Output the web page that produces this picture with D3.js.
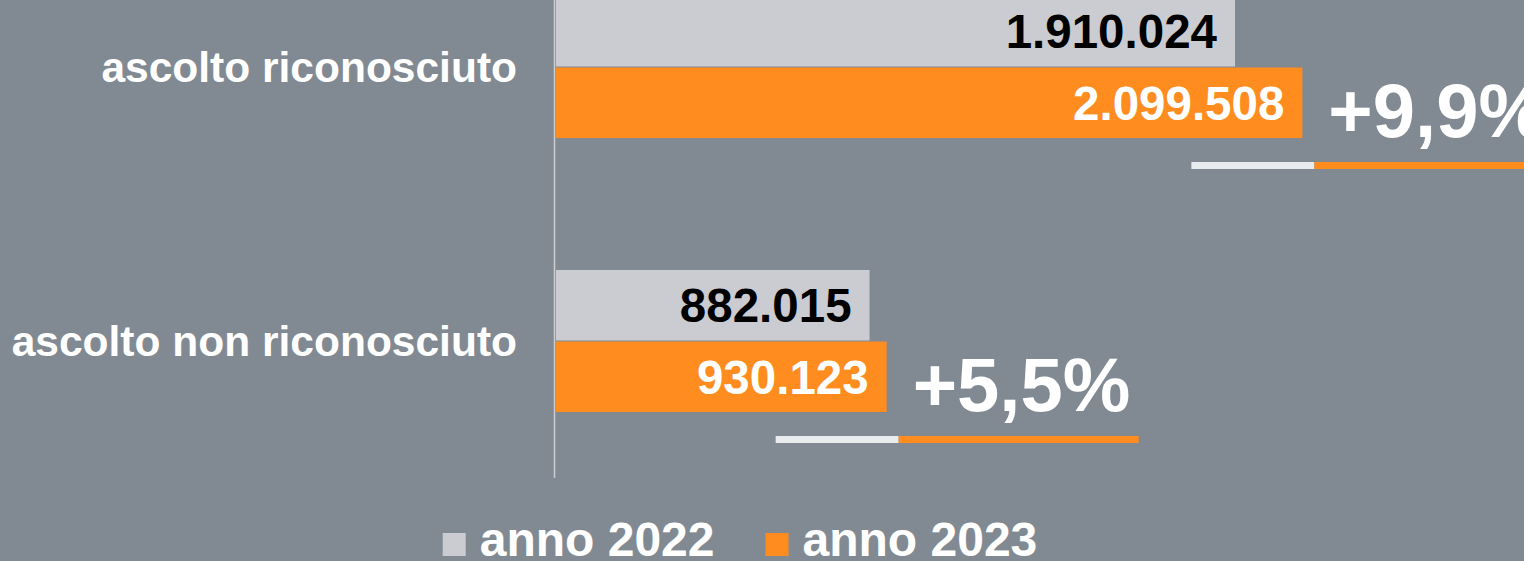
<!DOCTYPE html>
<html>
<head>
<meta charset="utf-8">
<script src="https://cdn.jsdelivr.net/npm/d3@7"></script>
<style>
  html, body { margin: 0; padding: 0; background: #818a93; }
  svg { display: block; font-family: "Liberation Sans", Arial, sans-serif; font-weight: bold; }
</style>
</head>
<body>
<div id="graf"></div>
<script>
// dati
const categorie = ["ascolto riconosciuto", "ascolto non riconosciuto"]
const anni = ["anno 2022", "anno 2023"]
const valori2022 = [1910024, 882015]
const valori2023 = [2099508, 930123]

const colori = {"anno 2022": "#cbccd1", "anno 2023": "#fe8c1e"}
const coloriTesto = {"anno 2022": "#000000", "anno 2023": "#ffffff"}

const width = 1524
const height = 561

const it = d3.formatLocale({decimal: ",", thousands: ".", grouping: [3], currency: ["€", ""]})
const fmtNum = it.format(",d")
const fmtPct = it.format("+.1f")

const data = categorie.map((c, i) => ({
  categoria: c,
  valori: [
    {anno: anni[0], valore: valori2022[i]},
    {anno: anni[1], valore: valori2023[i]}
  ]
}))

const x = d3.scaleLinear()
    .domain([0, 1910024])
    .range([556, 1235])

const y0 = d3.scaleBand()
    .domain(categorie)
    .range([-4, 412])
    .paddingInner(132 / 274)
    .paddingOuter(0)

const y1 = d3.scaleBand()
    .domain(anni)
    .range([0, y0.bandwidth()])
    .paddingInner(0.014)

const svg = d3.select("#graf").append("svg")
    .attr("width", width)
    .attr("height", height)
    .attr("viewBox", [0, 0, width, height])

svg.append("rect")
    .attr("width", width)
    .attr("height", height)
    .attr("fill", "#818a93")

const gruppi = svg.append("g")
  .selectAll("g")
  .data(data)
  .join("g")
    .attr("transform", d => `translate(0,${y0(d.categoria)})`)

gruppi.selectAll("rect")
  .data(d => d.valori)
  .join("rect")
    .attr("x", x(0))
    .attr("y", d => y1(d.anno))
    .attr("width", d => x(d.valore) - x(0))
    .attr("height", y1.bandwidth())
    .attr("fill", d => colori[d.anno])

gruppi.selectAll("text.valore")
  .data(d => d.valori)
  .join("text")
    .attr("class", "valore")
    .attr("x", d => x(d.valore) - 18)
    .attr("y", d => y1(d.anno) + y1.bandwidth() / 2)
    .attr("dy", "0.36em")
    .attr("text-anchor", "end")
    .attr("font-size", 47.5)
    .attr("fill", d => coloriTesto[d.anno])
    .text(d => fmtNum(d.valore))

// etichette categorie
svg.append("g")
  .selectAll("text")
  .data(categorie)
  .join("text")
    .attr("x", 517)
    .attr("y", d => y0(d) + y0.bandwidth() / 2)
    .attr("dy", "0.36em")
    .attr("text-anchor", "end")
    .attr("font-size", 42.5)
    .attr("fill", "#ffffff")
    .text(d => d)

// asse verticale
svg.append("line")
    .attr("x1", x(0) - 1.5)
    .attr("x2", x(0) - 1.5)
    .attr("y1", 0)
    .attr("y2", 478)
    .attr("stroke", "#c9cdd2")
    .attr("stroke-width", 1.5)

// variazioni percentuali
const variazioni = svg.append("g")
  .selectAll("g")
  .data(data)
  .join("g")
    .attr("transform", d => `translate(0,${y0(d.categoria) + y0.bandwidth()})`)

variazioni.append("text")
    .attr("x", d => x(d.valori[1].valore) + 26)
    .attr("y", -1)
    .attr("font-size", 76)
    .attr("fill", "#ffffff")
    .text(d => fmtPct((d.valori[1].valore / d.valori[0].valore - 1) * 100) + "%")

variazioni.append("rect")
    .attr("x", d => x(d.valori[1].valore) - 111)
    .attr("y", 24)
    .attr("width", 123)
    .attr("height", 7)
    .attr("fill", "#e9ecef")

variazioni.append("rect")
    .attr("x", d => x(d.valori[1].valore) + 12)
    .attr("y", 24)
    .attr("width", 240)
    .attr("height", 7)
    .attr("fill", "#fe8c1e")

// legenda
const legenda = svg.append("g")
    .attr("transform", `translate(0,${height - 5})`)

const voci = legenda.selectAll("g")
  .data(anni)
  .join("g")

voci.append("rect")
    .attr("y", -23)
    .attr("width", 23)
    .attr("height", 23)
    .attr("fill", d => colori[d])

voci.append("text")
    .attr("x", 37)
    .attr("y", 0)
    .attr("font-size", 48)
    .attr("fill", "#ffffff")
    .text(d => d)

const larghezze = []
voci.each(function() {
  larghezze.push(37 + this.querySelector("text").getComputedTextLength())
})
const totale = d3.sum(larghezze) + 51 * (larghezze.length - 1)
let start = 740 - totale / 2
voci.attr("transform", (d, i) => {
  const t = `translate(${start},0)`
  start += larghezze[i] + 51
  return t
})
</script>
</body>
</html>
